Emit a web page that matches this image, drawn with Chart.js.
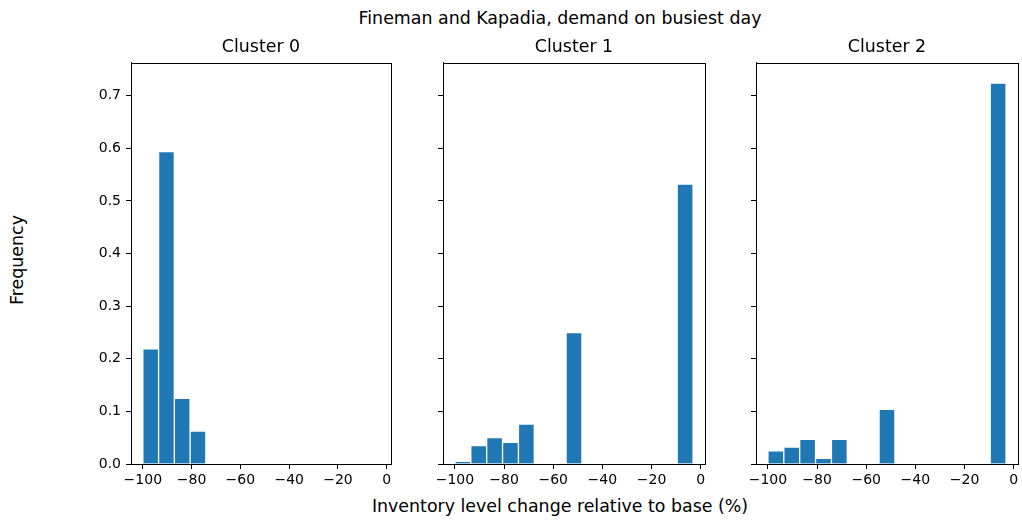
<!DOCTYPE html>
<html>
<head>
<meta charset="utf-8">
<script src="https://cdn.jsdelivr.net/npm/chart.js@4.4.1/dist/chart.umd.min.js"></script>
<style>
    body { margin: 0; width: 1022px; height: 520px; background: #fff; position: relative; overflow: hidden; font-family: 'DejaVu Sans', sans-serif; color: #000; }
    .txt { position: absolute; font-size: 17.4px; white-space: nowrap; line-height: 1; }
    canvas { position: absolute; }
</style>
</head>
<body>
<div class="txt" id="supTitulo" style="left:560px; top:19px; transform:translate(-50%,-50%);">Fineman and Kapadia, demand on busiest day</div>
<div class="txt" id="supX" style="left:560px; top:507px; transform:translate(-50%,-50%);">Inventory level change relative to base (%)</div>
<div class="txt" id="supY" style="left:18px; top:260px; transform:translate(-50%,-50%) rotate(-90deg);">Frequency</div>

<canvas id="c0" width="318" height="457" style="left:81px; top:37px;"></canvas>
<canvas id="c1" width="320" height="457" style="left:393px; top:37px;"></canvas>
<canvas id="c2" width="320" height="457" style="left:706px; top:37px;"></canvas>

<script>
// ========= Datos =========
const titulos = ["Cluster 0", "Cluster 1", "Cluster 2"];
// centros de los 15 bins (ancho ~6.46, de -100 a -3.1)
const centrosBins = [-96.77, -90.31, -83.85, -77.39, -70.93, -64.47, -58.01, -51.55, -45.09, -38.63, -32.17, -25.71, -19.25, -12.79, -6.33];
const frecCluster0 = [0.219, 0.594, 0.125, 0.0625, 0, 0, 0, 0, 0, 0, 0, 0, 0, 0, 0];
const frecCluster1 = [0.005, 0.035, 0.050, 0.041, 0.076, 0, 0, 0.250, 0, 0, 0, 0, 0, 0, 0.532];
const frecCluster2 = [0.025, 0.032, 0.047, 0.011, 0.047, 0, 0, 0.104, 0, 0, 0, 0, 0, 0, 0.724];
const ticksX = [-100, -80, -60, -40, -20, 0];
const ticksY = [0.0, 0.1, 0.2, 0.3, 0.4, 0.5, 0.6, 0.7];

const rangoX = [-104.85, 1.75];
const rangoY = [0, 0.7625];

Chart.defaults.font.family = "'DejaVu Sans', sans-serif";
Chart.defaults.font.size = 14;
Chart.defaults.color = '#000';

// marco completo del eje (estilo matplotlib)
const marco = {
    id: 'marco',
    afterDraw(chart) {
        const a = chart.chartArea;
        const ctx = chart.ctx;
        ctx.save();
        ctx.strokeStyle = '#000';
        ctx.lineWidth = 1;
        ctx.strokeRect(Math.round(a.left) + 0.5, Math.round(a.top) + 0.5, Math.round(a.right - a.left), Math.round(a.bottom - a.top));
        ctx.restore();
    }
};

const menos = v => String(v).replace('-', '\u2212');

function crearPanel(idCanvas, titulo, valores, conEtiquetasY) {
    const ctx = document.getElementById(idCanvas).getContext('2d');
    return new Chart(ctx, {
        type: 'bar',
        data: {
            datasets: [{
                data: centrosBins.map((x, i) => ({ x: x, y: valores[i] })),
                backgroundColor: '#1f77b4',
                borderColor: 'rgba(255,255,255,0.85)',
                borderWidth: 1,
                borderSkipped: 'bottom',
                barPercentage: 1,
                categoryPercentage: 1
            }]
        },
        plugins: [marco],
        options: {
            responsive: false,
            animation: false,
            layout: { padding: { left: 0, right: 8, top: 0, bottom: 0 } },
            plugins: {
                legend: { display: false },
                tooltip: { enabled: false },
                title: {
                    display: true,
                    fullSize: false,
                    text: titulo,
                    font: { size: 17.4, weight: 'normal' },
                    padding: { top: 0, bottom: 5 }
                }
            },
            scales: {
                x: {
                    type: 'linear',
                    offset: false,
                    min: rangoX[0],
                    max: rangoX[1],
                    afterBuildTicks: s => { s.ticks = ticksX.map(v => ({ value: v })); },
                    afterFit: s => { s.height = 30; },
                    grid: { display: true, offset: false, drawOnChartArea: false, drawTicks: true, tickLength: 5, color: '#000' },
                    border: { display: true, color: '#000', width: 1 },
                    ticks: { maxRotation: 0, padding: 3, callback: v => menos(v) }
                },
                y: {
                    min: rangoY[0],
                    max: rangoY[1],
                    afterBuildTicks: s => { s.ticks = ticksY.map(v => ({ value: v })); },
                    afterFit: s => { s.width = 50; },
                    grid: { display: true, drawOnChartArea: false, drawTicks: true, tickLength: 5, color: '#000' },
                    border: { display: true, color: '#000', width: 1 },
                    ticks: { padding: 5, callback: v => conEtiquetasY ? v.toFixed(1) : '' }
                }
            }
        }
    });
}

// ========= Init =========
document.addEventListener('DOMContentLoaded', () => {
    crearPanel('c0', titulos[0], frecCluster0, true);
    crearPanel('c1', titulos[1], frecCluster1, false);
    crearPanel('c2', titulos[2], frecCluster2, false);
});
</script>
</body>
</html>
